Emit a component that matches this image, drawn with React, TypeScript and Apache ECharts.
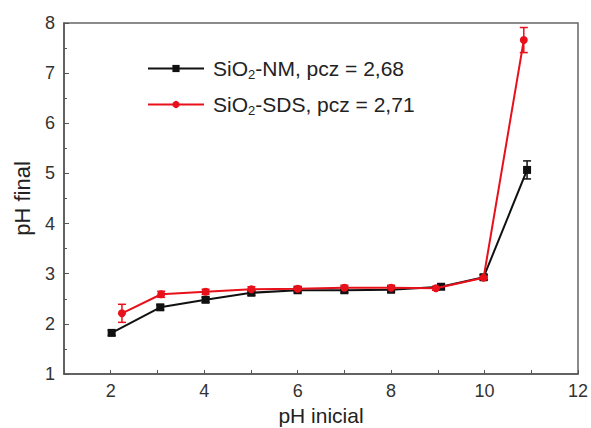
import React, { useEffect, useRef } from "react";
import * as echarts from "echarts";

const nmX = [2.02, 3.06, 4.03, 5.01, 6.0, 7.0, 8.0, 9.07, 9.98, 10.91];
const nmY = [1.82, 2.33, 2.48, 2.62, 2.67, 2.67, 2.68, 2.74, 2.93, 5.07];
const nmErr = [0.05, 0.05, 0.05, 0.05, 0.05, 0.05, 0.05, 0.05, 0.05, 0.18];

const sdsX = [2.24, 3.08, 4.03, 5.01, 6.0, 7.0, 8.0, 8.96, 9.98, 10.84];
const sdsY = [2.21, 2.59, 2.64, 2.69, 2.7, 2.72, 2.72, 2.71, 2.92, 7.66];
const sdsErr = [0.18, 0.06, 0.05, 0.05, 0.05, 0.05, 0.05, 0.04, 0.05, 0.25];

const nmName = "SiO2-NM, pcz = 2,68";
const sdsName = "SiO2-SDS, pcz = 2,71";

const BLACK = "#111111";
const RED = "#e8101a";
const FONT = "Liberation Sans, Arial, sans-serif";

function errSeries(xs: number[], ys: number[], es: number[], color: string) {
  return {
    type: "custom",
    silent: true,
    z: 1,
    data: xs.map((x, i) => [x, ys[i], es[i]]),
    renderItem: (params: any, api: any) => {
      const x = api.value(0);
      const y = api.value(1);
      const e = api.value(2);
      const top = api.coord([x, y + e]);
      const bot = api.coord([x, y - e]);
      const hw = 4;
      const style = { stroke: color, lineWidth: 1.5 };
      return {
        type: "group",
        children: [
          { type: "line", shape: { x1: top[0], y1: top[1], x2: bot[0], y2: bot[1] }, style },
          { type: "line", shape: { x1: top[0] - hw, y1: top[1], x2: top[0] + hw, y2: top[1] }, style },
          { type: "line", shape: { x1: bot[0] - hw, y1: bot[1], x2: bot[0] + hw, y2: bot[1] }, style },
        ],
      };
    },
  };
}

export default function App() {
  const ref = useRef<HTMLDivElement>(null);
  useEffect(() => {
    if (!ref.current) return;
    const chart = echarts.init(ref.current, undefined, { renderer: "svg" });
    chart.setOption({
      animation: false,
      backgroundColor: "#ffffff",
      textStyle: { fontFamily: FONT },
      grid: {
        left: 64,
        right: 13,
        top: 23,
        bottom: 54,
        containLabel: false,
        outerBoundsMode: "none",
        show: true,
        borderColor: "#666666",
        borderWidth: 1.5,
        backgroundColor: "transparent",
      },
      legend: {
        orient: "vertical",
        left: 142,
        top: 53,
        itemWidth: 56,
        itemHeight: 9,
        itemGap: 13,
        data: [nmName, sdsName],
        formatter: (name: string) => name.replace("SiO2", "SiO{sub|2}"),
        textStyle: {
          fontFamily: FONT,
          fontSize: 21,
          color: "#222222",
          padding: [0, 0, 0, 4],
          rich: {
            sub: { fontSize: 13, fontFamily: FONT, color: "#222222", padding: [12, 0, 0, 0] },
          },
        },
      },
      xAxis: {
        type: "value",
        min: 1,
        max: 12,
        interval: 1,
        name: "pH inicial",
        nameLocation: "middle",
        nameGap: 30,
        nameTextStyle: { fontSize: 21, color: "#222222", fontFamily: FONT },
        axisLine: { show: true, lineStyle: { color: "#555555", width: 1.5 } },
        axisTick: { show: true, inside: true, length: 4, lineStyle: { color: "#555555" } },
        axisLabel: {
          fontSize: 18,
          color: "#333333",
          margin: 8,
          fontFamily: FONT,
          formatter: (v: number) => (Math.round(v) % 2 === 0 ? String(v) : ""),
        },
        splitLine: { show: false },
      },
      yAxis: {
        type: "value",
        min: 1,
        max: 8,
        interval: 1,
        name: "pH final",
        nameLocation: "middle",
        nameGap: 31,
        nameTextStyle: { fontSize: 22, color: "#222222", fontFamily: FONT },
        axisLine: { show: true, lineStyle: { color: "#555555", width: 1.5 } },
        axisTick: { show: true, inside: true, length: 5, lineStyle: { color: "#555555" } },
        minorTick: { show: true, splitNumber: 2, length: 3, lineStyle: { color: "#555555" } },
        axisLabel: { fontSize: 18, color: "#333333", margin: 9, fontFamily: FONT },
        splitLine: { show: false },
      },
      series: [
        errSeries(nmX, nmY, nmErr, BLACK),
        errSeries(sdsX, sdsY, sdsErr, RED),
        {
          name: nmName,
          type: "line",
          data: nmX.map((x, i) => [x, nmY[i]]),
          symbol: "rect",
          symbolSize: 8,
          itemStyle: { color: BLACK },
          lineStyle: { color: BLACK, width: 2 },
          z: 3,
        },
        {
          name: sdsName,
          type: "line",
          data: sdsX.map((x, i) => [x, sdsY[i]]),
          symbol: "circle",
          symbolSize: 8,
          itemStyle: { color: RED },
          lineStyle: { color: RED, width: 2 },
          z: 4,
        },
      ],
    });
    return () => chart.dispose();
  }, []);
  return (
    <div
      ref={ref}
      style={{ position: "fixed", left: 0, top: 0, width: 591, height: 428 }}
    />
  );
}
